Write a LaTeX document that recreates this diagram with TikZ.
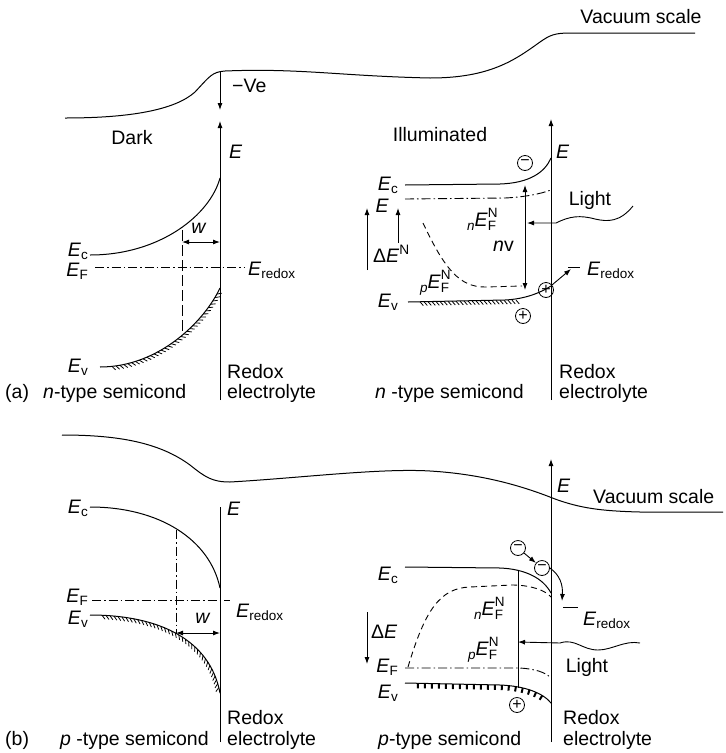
\documentclass[tikz,border=0pt]{standalone}
\usepackage{fontspec}
\setmainfont{Liberation Sans}
\usetikzlibrary{arrows.meta,decorations.pathreplacing}
\newcommand\smallidx{\fontsize{13.5}{13.5}\selectfont}
\newcommand\Esub[1]{\textit{E}\raisebox{-3.5pt}{\smallidx #1}}
\newcommand\EFN[1]{\raisebox{-4pt}{\smallidx\textit{#1}}\textit{E}%
  \rlap{\raisebox{9pt}{\smallidx N}}\raisebox{-4pt}{\smallidx F}}
\tikzset{
  band/.style={line width=1pt},
  fermi/.style={line width=0.9pt,dash pattern=on 9pt off 3pt on 1.5pt off 3pt},
  quasi/.style={line width=0.9pt,dash pattern=on 6pt off 4pt},
  vac/.style={line width=1pt},
  axis/.style={line width=0.9pt},
  arr/.style={-{Latex[length=7pt,width=5pt]},line width=0.9pt},
  darr/.style={{Latex[length=7pt,width=5pt]}-{Latex[length=7pt,width=5pt]},line width=0.9pt},
  lbl/.style={inner sep=0pt},
  chg/.style={circle,draw,line width=0.8pt,minimum size=15pt,inner sep=0pt,
              font=\fontsize{16}{16}\selectfont},
  hatch/.style={decorate,line width=0.8pt,
                decoration={border,segment length=4pt,amplitude=5pt,angle=-50,
                            pre=moveto,pre length=12pt}}
}

\begin{document}
\begin{tikzpicture}[x=1pt,y=-1pt,font=\fontsize{19.5}{20}\selectfont]
  \useasboundingbox (0,0) rectangle (726,753);
  % ---------- (a) vacuum level
  \draw[vac] (65,118) .. controls (130,118) and (175,110) .. (195,92)
     .. controls (210,76) and (212,72) .. (225,71)
     .. controls (300,68) and (340,76) .. (430,78)
     .. controls (490,78) and (515,60) .. (540,42)
     .. controls (550,35) and (555,33) .. (570,33) -- (695,33);
  \node[lbl] (vacA) at (641,17) {Vacuum scale};
  \coordinate (veT) at (220,72);
  \coordinate (veB) at (220,110);
  \draw[arr] (veT) -- (veB);
  \node[lbl,anchor=west] (ve) at (232,86) {−Ve};
  % ---------- (a) dark
  \node[lbl] (dark) at (132,138) {Dark};
  \coordinate (axAb) at (220,400);
  \coordinate (axAt) at (220,121);
  \draw[axis,arr] (axAb) -- (axAt);
  \node[lbl,anchor=base west] (eA) at (229,158) {\textit{E}};
  \draw[band] (90,255) .. controls (160,255) and (210,215) .. (220,178);
  \draw[band] (100,367) .. controls (160,367) and (205,320) .. (220,288);
  \draw[hatch] (100,367) .. controls (160,367) and (205,320) .. (220,288);
  \draw[fermi] (95,267) -- (245,267);
  \draw[line width=0.9pt,dash pattern=on 11pt off 4pt] (182,230) -- (182,335);
  \coordinate (wAl) at (182,242);
  \coordinate (wAr) at (220,242);
  \draw[darr] (wAl) -- (wAr);
  \node[lbl] (wA) at (199,228) {\textit{w}};
  \node[lbl,anchor=base east] (ecA) at (88,256) {\Esub{c}};
  \node[lbl,anchor=base east] (efA) at (88,276) {\Esub{F}};
  \node[lbl,anchor=base east] (evA) at (88,372) {\Esub{v}};
  \node[lbl,anchor=base west] (erA) at (248,275) {\Esub{redox}};
  \node[lbl,anchor=base west] (capA) at (5,398) {(a)};
  \node[lbl,anchor=base west] (scA) at (43,398) {\textit{n}-type semicond};
  \node[lbl,anchor=base west] (rdA) at (227,378) {Redox};
  \node[lbl,anchor=base west] (elA) at (227,398) {electrolyte};
  % ---------- (a) illuminated
  \node[lbl] (ill) at (440,135) {Illuminated};
  \coordinate (axIb) at (551,400);
  \coordinate (axIt) at (551,119);
  \draw[axis,arr] (axIb) -- (axIt);
  \node[lbl,anchor=base west] (eI) at (556,158) {\textit{E}};
  \draw[band] (405,185) -- (500,184) .. controls (530,183) and (545,172) .. (551,158);
  \draw[fermi] (405,199) -- (505,198) .. controls (525,197) and (540,194) .. (551,190);
  \draw[quasi] (423,223) .. controls (445,270) and (460,287) .. (485,287) -- (522,286);
  \draw[band] (408,302) -- (505,300) .. controls (525,299) and (540,293) .. (551,286);
  \draw[hatch] (408,302) -- (520,300);
  \node[chg] (mI) at (525,163) {−};
  \node[chg] (pI1) at (546,290) {+};
  \node[chg] (pI2) at (523,316) {+};
  \coordinate (hvT) at (525,185);
  \coordinate (hvB) at (525,290);
  \draw[darr] (hvT) -- (hvB);
  \coordinate (upLb) at (367,270);
  \coordinate (upLt) at (367,208);
  \draw[arr] (upLb) -- (upLt);
  \coordinate (upRb) at (398,243);
  \coordinate (upRt) at (398,208);
  \draw[arr] (upRb) -- (upRt);
  \coordinate (lightA) at (633,206);
  \coordinate (lightAt) at (527,223);
  \draw[arr] (lightA) .. controls (620,222) and (608,222) .. (595,219)
     .. controls (580,215) and (570,216) .. (556,223) -- (lightAt);
  \node[lbl] (ltA) at (590,200) {Light};
  \coordinate (redA) at (571,269);
  \draw[arr] (pI1) -- (redA);
  \draw[line width=0.9pt] (568,267) -- (580,267);
  \node[lbl,anchor=base west] (erI) at (587,275) {\Esub{redox}};
  \node[lbl,anchor=base east] (ecI) at (398,190) {\Esub{c}};
  \node[lbl,anchor=base east] (efI) at (389,212) {\textit{E}};
  \node[lbl,anchor=base east] (evI) at (398,307) {\Esub{v}};
  \node[lbl,anchor=base west] (dEN) at (373,262) {Δ\textit{E}\textsuperscript{N}};
  \node[lbl,anchor=base west] (nEI) at (467,226) {\EFN{n}};
  \node[lbl,anchor=base west] (pEI) at (420,288) {\EFN{p}};
  \node[lbl,anchor=base west] (hvI) at (493,251) {\textit{n}v};
  \node[lbl,anchor=base west] (scI) at (375,398) {\textit{n} -type semicond};
  \node[lbl,anchor=base west] (rdI) at (559,378) {Redox};
  \node[lbl,anchor=base west] (elI) at (559,398) {electrolyte};
  % ---------- (b) vacuum level
  \draw[vac] (62,435) .. controls (120,435) and (160,443) .. (190,465)
     .. controls (205,477) and (212,482) .. (230,482)
     .. controls (300,478) and (380,468) .. (430,471)
     .. controls (480,474) and (520,485) .. (555,499)
     .. controls (580,508) and (600,511) .. (640,512) -- (723,512);
  \node[lbl,anchor=base west] (vacB) at (593,503) {Vacuum scale};
  % ---------- (b) dark
  \coordinate (axBb) at (220,742);
  \coordinate (axBt) at (220,507);
  \draw[axis] (axBb) -- (axBt);
  \node[lbl,anchor=base west] (eB) at (227,515) {\textit{E}};
  \draw[band] (90,507) .. controls (160,507) and (210,540) .. (220,588);
  \draw[band] (90,615) .. controls (160,615) and (210,640) .. (220,693);
  \draw[hatch] (90,615) .. controls (160,615) and (210,640) .. (220,693);
  \draw[fermi] (92,600) -- (230,600);
  \draw[fermi] (176,530) -- (176,633);
  \coordinate (wBl) at (176,633);
  \coordinate (wBr) at (220,633);
  \draw[darr] (wBl) -- (wBr);
  \node[lbl] (wB) at (203,618) {\textit{w}};
  \node[lbl,anchor=base east] (ecB) at (88,513) {\Esub{c}};
  \node[lbl,anchor=base east] (efB) at (88,602) {\Esub{F}};
  \node[lbl,anchor=base east] (evB) at (88,624) {\Esub{v}};
  \node[lbl,anchor=base west] (erB) at (236,617) {\Esub{redox}};
  \node[lbl,anchor=base west] (capB) at (5,745) {(b)};
  \node[lbl,anchor=base west] (scB) at (60,745) {\textit{p} -type semicond};
  \node[lbl,anchor=base west] (rdB) at (227,724) {Redox};
  \node[lbl,anchor=base west] (elB) at (227,745) {electrolyte};
  % ---------- (b) illuminated
  \coordinate (axJb) at (551,742);
  \coordinate (axJt) at (551,459);
  \draw[axis,arr] (axJb) -- (axJt);
  \node[lbl,anchor=base west] (eJ) at (557,492) {\textit{E}};
  \draw[band] (405,567) -- (500,568) .. controls (525,569) and (543,578) .. (551,593);
  \draw[quasi] (408,667) .. controls (425,610) and (440,588) .. (470,587) -- (512,585)
     .. controls (530,585) and (545,590) .. (551,597);
  \draw[fermi] (405,668) -- (520,668) .. controls (535,669) and (545,672) .. (551,678);
  \draw[band] (405,683) -- (500,685) .. controls (525,686) and (543,693) .. (551,703);
  \draw[line width=2pt,decorate,decoration={border,segment length=7pt,amplitude=5pt,
        angle=-90,pre=moveto,pre length=13pt}]
     (405,683) -- (500,685) .. controls (525,686) and (543,693) .. (551,703);
  \coordinate (vlT) at (518,570);
  \coordinate (vlB) at (518,688);
  \draw[axis] (vlT) -- (vlB);
  \node[chg] (mJ1) at (518,548) {−};
  \node[chg] (mJ2) at (542,568) {−};
  \node[chg] (pJ) at (517,705) {+};
  \draw[arr] (mJ1) -- (mJ2);
  \coordinate (redB) at (562,601);
  \draw[arr] (mJ2.east) .. controls (560,575) and (563,585) .. (redB);
  \draw[line width=0.9pt] (563,607) -- (578,607);
  \node[lbl,anchor=base west] (erJ) at (583,625) {\Esub{redox}};
  \coordinate (dnT) at (367,612);
  \coordinate (dnB) at (367,664);
  \draw[arr] (dnT) -- (dnB);
  \node[lbl,anchor=base west] (dEJ) at (371,638) {Δ\textit{E}};
  \coordinate (lightB) at (640,643);
  \coordinate (lightBt) at (518,642);
  \draw[arr] (lightB) .. controls (625,640) and (612,650) .. (598,650)
     .. controls (582,650) and (575,638) .. (560,643) -- (lightBt);
  \node[lbl] (ltB) at (587,667) {Light};
  \node[lbl,anchor=base east] (ecJ) at (398,580) {\Esub{c}};
  \node[lbl,anchor=base east] (efJ) at (398,672) {\Esub{F}};
  \node[lbl,anchor=base east] (evJ) at (398,698) {\Esub{v}};
  \node[lbl,anchor=base west] (nEJ) at (474,615) {\EFN{n}};
  \node[lbl,anchor=base west] (pEJ) at (468,655) {\EFN{p}};
  \node[lbl,anchor=base west] (scJ) at (378,745) {\textit{p}-type semicond};
  \node[lbl,anchor=base west] (rdJ) at (563,724) {Redox};
  \node[lbl,anchor=base west] (elJ) at (563,745) {electrolyte};
\end{tikzpicture}
\end{document}
